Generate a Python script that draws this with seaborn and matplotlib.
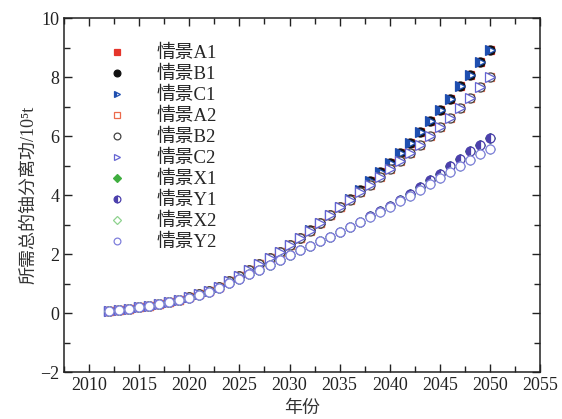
import numpy as np
import pandas as pd
import matplotlib
matplotlib.use("Agg")
import matplotlib.pyplot as plt
from matplotlib.ticker import MultipleLocator
import seaborn as sns

years = list(range(2012, 2051))

# Required separative work (10^5 t) per scenario group
group1 = [0.06, 0.10, 0.14, 0.19, 0.25, 0.31, 0.38, 0.45, 0.53, 0.63, 0.74, 0.90, 1.08,
          1.26, 1.45, 1.65, 1.86, 2.08, 2.31, 2.55, 2.80, 3.06, 3.33, 3.61, 3.88, 4.16,
          4.47, 4.77, 5.09, 5.41, 5.75, 6.12, 6.51, 6.88, 7.27, 7.68, 8.08, 8.50, 8.90]
group2 = [0.06, 0.10, 0.14, 0.19, 0.25, 0.31, 0.38, 0.45, 0.53, 0.63, 0.74, 0.90, 1.08,
          1.26, 1.45, 1.65, 1.86, 2.08, 2.30, 2.54, 2.78, 3.04, 3.31, 3.58, 3.84, 4.09,
          4.35, 4.62, 4.89, 5.15, 5.43, 5.71, 6.01, 6.30, 6.62, 6.96, 7.30, 7.66, 8.00]
group_y1 = [0.06, 0.10, 0.14, 0.19, 0.25, 0.31, 0.37, 0.44, 0.52, 0.62, 0.73, 0.86, 1.02,
            1.17, 1.32, 1.47, 1.63, 1.80, 1.98, 2.13, 2.28, 2.43, 2.59, 2.74, 2.91, 3.08,
            3.28, 3.45, 3.64, 3.84, 4.05, 4.28, 4.50, 4.73, 4.98, 5.23, 5.49, 5.71, 5.94]
group_y2 = [0.06, 0.10, 0.14, 0.19, 0.25, 0.31, 0.37, 0.44, 0.52, 0.62, 0.73, 0.86, 1.02,
            1.17, 1.32, 1.47, 1.63, 1.80, 1.98, 2.13, 2.28, 2.43, 2.59, 2.74, 2.91, 3.08,
            3.26, 3.42, 3.60, 3.79, 3.98, 4.18, 4.38, 4.58, 4.78, 4.98, 5.18, 5.38, 5.57]

scenarios = ["情景A1", "情景B1", "情景C1", "情景A2", "情景B2", "情景C2",
             "情景X1", "情景Y1", "情景X2", "情景Y2"]
scenario_values = [group1, group1, group1, group2, group2, group2,
                   group_y1, group_y1, group_y2, group_y2]

styles = {
    "情景A1": dict(marker="s", color="#e5352b", mfc="#e5352b", fillstyle="full", ms=5.2),
    "情景B1": dict(marker="o", color="#111111", mfc="#111111", fillstyle="full", ms=6.5),
    "情景C1": dict(marker=">", color="#1f4fb0", mfc="#1f4fb0", fillstyle="left", ms=6.5),
    "情景A2": dict(marker="s", color="#ec6a4c", mfc="white", fillstyle="full", ms=5.2),
    "情景B2": dict(marker="o", color="#444444", mfc="white", fillstyle="full", ms=6.5),
    "情景C2": dict(marker=">", color="#6464d2", mfc="white", fillstyle="full", ms=6.5),
    "情景X1": dict(marker="D", color="#3fae3f", mfc="#3fae3f", fillstyle="full", ms=5.0),
    "情景Y1": dict(marker="o", color="#4c40ac", mfc="#4c40ac", fillstyle="left", ms=6.5),
    "情景X2": dict(marker="D", color="#8ed28e", mfc="white", fillstyle="full", ms=5.0),
    "情景Y2": dict(marker="o", color="#8080dc", mfc="white", fillstyle="full", ms=6.5),
}

df = pd.DataFrame({
    "年份": np.tile(years, len(scenarios)),
    "分离功": np.concatenate(scenario_values),
    "情景": np.repeat(scenarios, len(years)),
})

sns.set_style("ticks")
plt.rcParams["font.family"] = ["Liberation Serif", "Noto Sans CJK SC"]

fig = plt.figure(figsize=(5.62, 4.19), dpi=100)
ax = fig.add_axes([0.114, 0.112, 0.847, 0.845])

for name in scenarios:
    st = styles[name]
    sub = df[df["情景"] == name]
    sns.lineplot(data=sub, x="年份", y="分离功", ax=ax, linestyle="",
                 marker=st["marker"], color=st["color"],
                 markerfacecolor=st["mfc"], markeredgecolor=st["color"],
                 markerfacecoloralt="white", fillstyle=st["fillstyle"],
                 markersize=st["ms"], markeredgewidth=0.9, label=name)

ax.set_xlim(2007.5, 2055)
ax.set_ylim(-2, 10)
ax.xaxis.set_major_locator(MultipleLocator(5))
ax.xaxis.set_minor_locator(MultipleLocator(2.5))
ax.yaxis.set_major_locator(MultipleLocator(2))
ax.yaxis.set_minor_locator(MultipleLocator(1))
ax.tick_params(which="both", direction="in", top=True, right=True,
               labelsize=13, width=1.0, colors="#222222")
ax.tick_params(which="major", length=6)
ax.tick_params(which="minor", length=4)
ax.set_yticks([-2, 0, 2, 4, 6, 8, 10])
ax.set_yticklabels(["−2", "0", "2", "4", "6", "8", "10"])
for sp in ax.spines.values():
    sp.set_linewidth(1.1)
    sp.set_color("#222222")

ax.set_xlabel("年份", fontsize=13, labelpad=4, color="#333333")
ax.set_ylabel("所需总的铀分离功/10⁵t", fontsize=13, labelpad=2, color="#333333")

leg = ax.legend(loc="upper left", bbox_to_anchor=(0.075, 0.945), frameon=False,
                fontsize=13.5, markerscale=0.75, handlelength=1.0,
                handletextpad=1.6, labelspacing=0.2, borderaxespad=0)

fig.savefig("out.png", dpi=100)
